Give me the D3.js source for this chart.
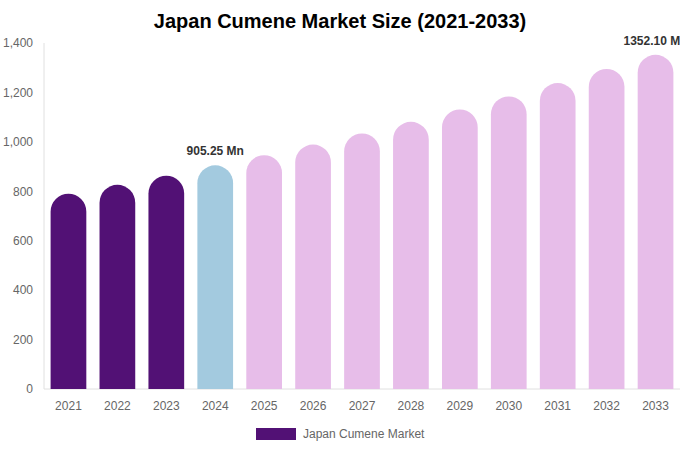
<!DOCTYPE html>
<html><head><meta charset="utf-8">
<script src="https://cdn.jsdelivr.net/npm/d3@7"></script>
<style>body{margin:0;background:#fff;font-family:"Liberation Sans",Arial,sans-serif}</style>
</head><body><svg id="c" width="680" height="450"></svg>
<script>
const years = ["2021","2022","2023","2024","2025","2026","2027","2028","2029","2030","2031","2032","2033"];
const values = [790, 826, 863, 905.25, 946, 989, 1034, 1081, 1131, 1184, 1238, 1295, 1352.10];
const barColors = ["#521175","#521175","#521175","#a3cadf","#e7bde9","#e7bde9","#e7bde9","#e7bde9","#e7bde9","#e7bde9","#e7bde9","#e7bde9","#e7bde9"];
const yTicks = [0,200,400,600,800,1000,1200,1400];
const labels = [{i:3, text:"905.25 Mn"},{i:12, text:"1352.10 Mn"}];
const title = "Japan Cumene Market Size (2021-2033)";
const legendLabel = "Japan Cumene Market";

const svg = d3.select("#c");
const m = {l:44, r:0, t:43, b:61};
const W = 680, H = 450;
const x = d3.scaleBand().domain(years).range([m.l, W - m.r]).paddingInner(0.27).paddingOuter(0.135);
const y = d3.scaleLinear().domain([0,1400]).range([H - m.b, m.t]);

svg.append("text").attr("x",340).attr("y",28).attr("text-anchor","middle")
  .attr("font-size",20).attr("font-weight","bold").attr("fill","#000").text(title);

svg.append("line").attr("x1",m.l).attr("x2",m.l).attr("y1",m.t).attr("y2",y(0)).attr("stroke","#e0e0e0");
svg.append("line").attr("x1",m.l).attr("x2",W).attr("y1",y(0)).attr("y2",y(0)).attr("stroke","#e0e0e0");

const yAxis = d3.axisLeft(y).tickValues(yTicks).tickSize(0).tickPadding(11).tickFormat(d3.format(","));
const ga = svg.append("g").attr("transform",`translate(${m.l},0)`).call(yAxis);
ga.select(".domain").remove();
ga.selectAll("text").attr("fill","#666").attr("font-size",12).attr("font-family","Liberation Sans, Arial, sans-serif");

const xAxis = d3.axisBottom(x).tickSize(0).tickPadding(12);
const gx = svg.append("g").attr("transform",`translate(0,${y(0)})`).call(xAxis);
gx.select(".domain").remove();
gx.selectAll("text").attr("fill","#666").attr("font-size",12).attr("font-family","Liberation Sans, Arial, sans-serif");

function barPath(x0, w, yTop, yBot){
  const r = w/2;
  return `M${x0},${yBot} L${x0},${yTop + r} A${r},${r} 0 0 1 ${x0 + w},${yTop + r} L${x0 + w},${yBot} Z`;
}
svg.append("g").selectAll("path").data(values).join("path")
  .attr("d",(d,i)=>barPath(x(years[i]), x.bandwidth(), y(d), y(0)))
  .attr("fill",(d,i)=>barColors[i]);

svg.append("g").selectAll("text").data(labels).join("text")
  .attr("x",d=>x(years[d.i]) + x.bandwidth()/2)
  .attr("y",d=>y(values[d.i]) - 10)
  .attr("text-anchor","middle").attr("font-size",12).attr("font-weight","bold").attr("fill","#333")
  .text(d=>d.text);

svg.append("rect").attr("x",256).attr("y",428).attr("width",40).attr("height",12).attr("fill","#521175");
svg.append("text").attr("x",303).attr("y",437.5).attr("font-size",12).attr("fill","#666").text(legendLabel);
</script></body></html>
